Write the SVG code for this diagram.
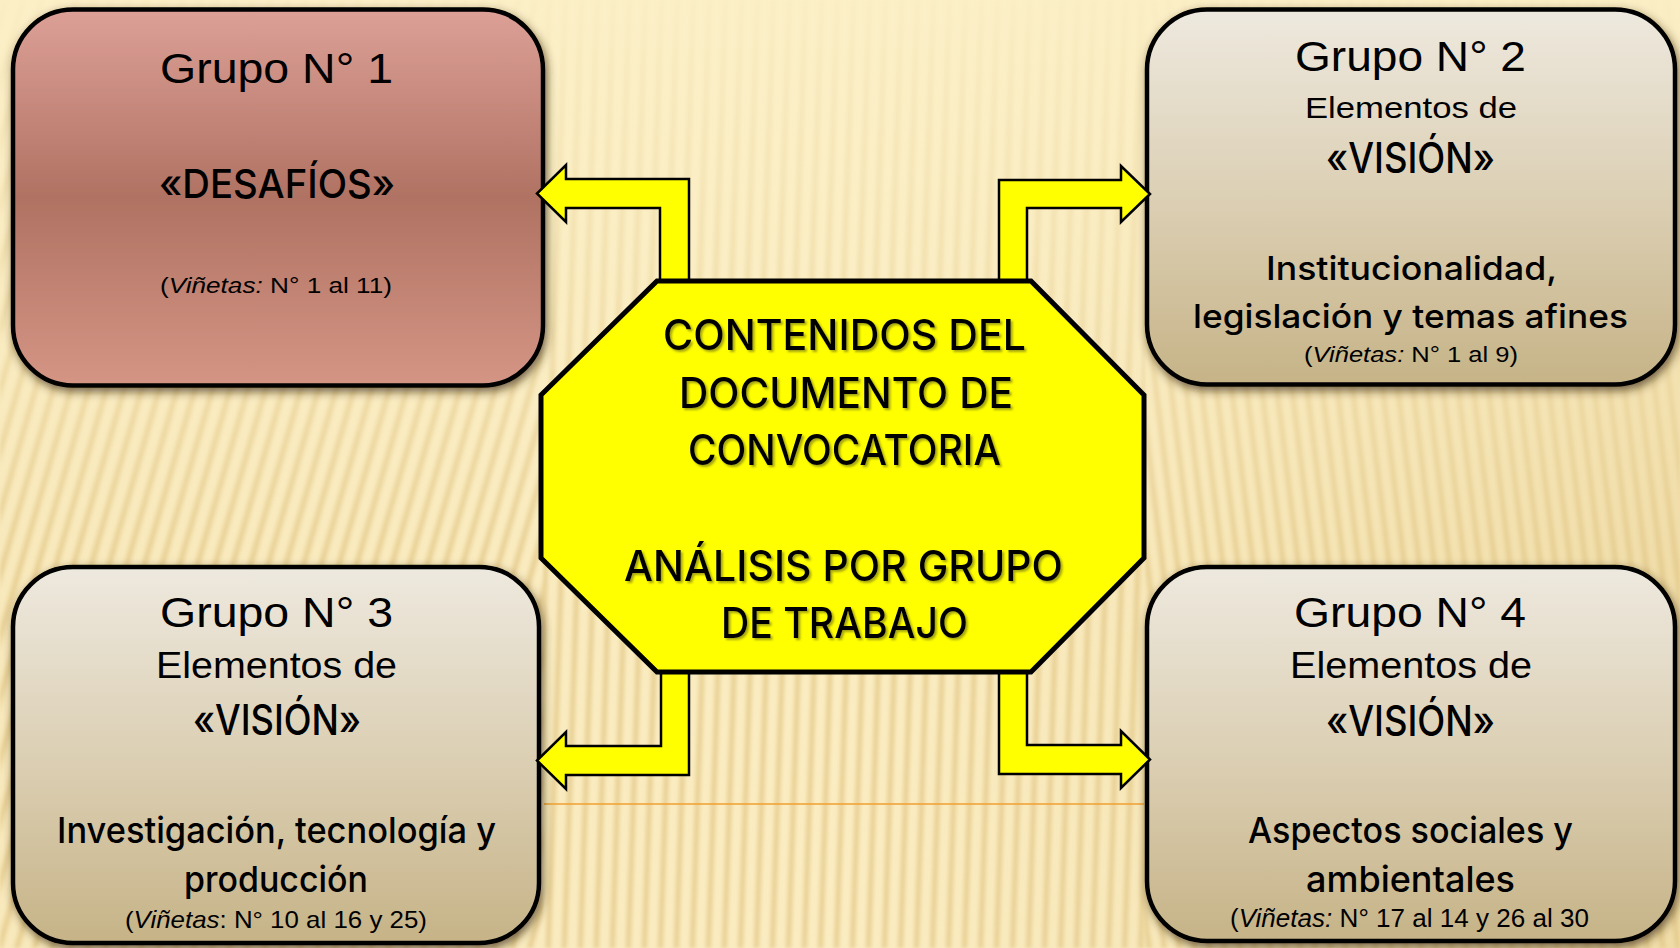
<svg xmlns="http://www.w3.org/2000/svg" width="1680" height="948" viewBox="0 0 1680 948">
<defs>
  <style>
    .lt{font-family:"Liberation Sans Narrow","Liberation Sans",Arial,sans-serif;font-weight:400;fill:#000}
    .md{font-family:Inter,Roboto,"Liberation Sans",sans-serif;font-weight:500;fill:#000}
    .oct{font-family:Inter,Roboto,"Liberation Sans",sans-serif;font-weight:500;font-size:42px;fill:#000;filter:url(#tshadow)}
    .box{stroke:#000;stroke-width:4.5;filter:url(#bshadow)}
    .arrow{fill:#FFFF00;stroke:#000;stroke-width:2.5;stroke-linejoin:miter}
    .it{font-style:italic}
  </style>
  <linearGradient id="gRed" x1="0" y1="0" x2="0" y2="1">
    <stop offset="0" stop-color="#DDA097"/>
    <stop offset="0.5" stop-color="#B07262"/>
    <stop offset="1" stop-color="#D49585"/>
  </linearGradient>
  <linearGradient id="gTan" x1="0" y1="0" x2="0" y2="1">
    <stop offset="0" stop-color="#EEE9DF"/>
    <stop offset="0.55" stop-color="#DACDB0"/>
    <stop offset="1" stop-color="#C6B387"/>
  </linearGradient>
  <linearGradient id="stripe" x1="0" y1="0" x2="1" y2="0">
    <stop offset="0" stop-color="#DCBE78" stop-opacity="0"/>
    <stop offset="0.5" stop-color="#DCBE78" stop-opacity="0.65"/>
    <stop offset="1" stop-color="#DCBE78" stop-opacity="0"/>
  </linearGradient>
  <pattern id="pL" width="17" height="20" patternUnits="userSpaceOnUse" patternTransform="rotate(16)">
    <rect x="0" y="0" width="11" height="20" fill="url(#stripe)"/>
  </pattern>
  <pattern id="pC" width="16" height="20" patternUnits="userSpaceOnUse" patternTransform="rotate(2)">
    <rect x="0" y="0" width="10" height="20" fill="url(#stripe)"/>
  </pattern>
  <pattern id="pR" width="15" height="20" patternUnits="userSpaceOnUse" patternTransform="rotate(-7)">
    <rect x="0" y="0" width="10" height="20" fill="url(#stripe)"/>
  </pattern>
  <linearGradient id="fadeTop" x1="0" y1="0" x2="0" y2="1">
    <stop offset="0" stop-color="#FCF0C8" stop-opacity="0.9"/>
    <stop offset="0.3" stop-color="#FCF0C8" stop-opacity="0.45"/>
    <stop offset="0.6" stop-color="#FCF0C8" stop-opacity="0"/>
  </linearGradient>
  <linearGradient id="sideTint" x1="0" y1="0" x2="1" y2="0">
    <stop offset="0" stop-color="#E9D39A" stop-opacity="0.15"/>
    <stop offset="0.5" stop-color="#E9D39A" stop-opacity="0"/>
    <stop offset="1" stop-color="#E2C888" stop-opacity="0.45"/>
  </linearGradient>
  <filter id="bshadow" x="-10%" y="-10%" width="120%" height="125%">
    <feDropShadow dx="2" dy="4" stdDeviation="5" flood-color="#3B2A10" flood-opacity="0.7"/>
  </filter>
  <filter id="tshadow" x="-5%" y="-20%" width="110%" height="150%">
    <feDropShadow dx="2" dy="2" stdDeviation="1.2" flood-color="#6B6B20" flood-opacity="0.6"/>
  </filter>
  <filter id="soft"><feGaussianBlur stdDeviation="1.5"/></filter>
</defs>

<g id="background">
  <rect x="0" y="0" width="1680" height="948" fill="#FBEDC2"/>
  <g filter="url(#soft)">
    <rect x="0" y="0" width="543" height="948" fill="url(#pL)"/>
    <rect x="543" y="0" width="602" height="948" fill="url(#pC)"/>
    <rect x="1145" y="0" width="535" height="948" fill="url(#pR)"/>
  </g>
  <rect x="0" y="0" width="1680" height="948" fill="url(#sideTint)"/>
  <rect x="0" y="0" width="1680" height="948" fill="url(#fadeTop)"/>
  <line x1="544" y1="804" x2="1144" y2="804" stroke="#F0A030" stroke-width="1.5"/>
</g>

<g id="group1">
  <rect class="box" x="13" y="9.5" width="530" height="376" rx="60" ry="60" fill="url(#gRed)"/>
  <text class="lt" x="160" y="83" font-size="42" textLength="233" lengthAdjust="spacingAndGlyphs">Grupo N° 1</text>
  <text class="md" x="159" y="198" font-size="40" textLength="236" lengthAdjust="spacingAndGlyphs">«DESAFÍOS»</text>
  <text class="lt" x="160" y="293" font-size="22" textLength="232" lengthAdjust="spacingAndGlyphs">(<tspan class="it">Viñetas:</tspan> N° 1 al 11)</text>
</g>

<g id="group2">
  <rect class="box" x="1147" y="9.5" width="528" height="375" rx="60" ry="60" fill="url(#gTan)"/>
  <text class="lt" x="1295" y="71" font-size="42" textLength="231" lengthAdjust="spacingAndGlyphs">Grupo N° 2</text>
  <text class="lt" x="1305" y="118" font-size="30" textLength="212" lengthAdjust="spacingAndGlyphs">Elementos de</text>
  <text class="md" x="1326" y="173" font-size="42" textLength="169" lengthAdjust="spacingAndGlyphs">«VISIÓN»</text>
  <text class="md" x="1266" y="280" font-size="33" textLength="291" lengthAdjust="spacingAndGlyphs">Institucionalidad,</text>
  <text class="md" x="1193" y="328" font-size="33" textLength="435" lengthAdjust="spacingAndGlyphs">legislación y temas afines</text>
  <text class="lt" x="1304" y="362" font-size="22" textLength="214" lengthAdjust="spacingAndGlyphs">(<tspan class="it">Viñetas:</tspan> N° 1 al 9)</text>
</g>

<g id="group3">
  <rect class="box" x="13" y="567" width="526" height="376" rx="60" ry="60" fill="url(#gTan)"/>
  <text class="lt" x="160" y="627" font-size="42" textLength="233" lengthAdjust="spacingAndGlyphs">Grupo N° 3</text>
  <text class="lt" x="156" y="678" font-size="36" textLength="241" lengthAdjust="spacingAndGlyphs">Elementos de</text>
  <text class="md" x="193" y="735" font-size="42" textLength="168" lengthAdjust="spacingAndGlyphs">«VISIÓN»</text>
  <text class="md" x="57" y="843" font-size="36" textLength="439" lengthAdjust="spacingAndGlyphs">Investigación, tecnología y</text>
  <text class="md" x="184" y="892" font-size="36" textLength="184" lengthAdjust="spacingAndGlyphs">producción</text>
  <text class="lt" x="125" y="928" font-size="24" textLength="302" lengthAdjust="spacingAndGlyphs">(<tspan class="it">Viñetas</tspan>: N° 10 al 16 y 25)</text>
</g>

<g id="group4">
  <rect class="box" x="1147" y="567" width="528" height="374" rx="60" ry="60" fill="url(#gTan)"/>
  <text class="lt" x="1294" y="627" font-size="42" textLength="232" lengthAdjust="spacingAndGlyphs">Grupo N° 4</text>
  <text class="lt" x="1290" y="678" font-size="36" textLength="242" lengthAdjust="spacingAndGlyphs">Elementos de</text>
  <text class="md" x="1326" y="736" font-size="42" textLength="169" lengthAdjust="spacingAndGlyphs">«VISIÓN»</text>
  <text class="md" x="1248" y="843" font-size="36" textLength="325" lengthAdjust="spacingAndGlyphs">Aspectos sociales y</text>
  <text class="md" x="1306" y="892" font-size="36" textLength="209" lengthAdjust="spacingAndGlyphs">ambientales</text>
  <text class="lt" x="1230" y="927" font-size="25" textLength="359" lengthAdjust="spacingAndGlyphs">(<tspan class="it">Viñetas:</tspan> N° 17 al 14 y 26 al 30</text>
</g>

<g id="connectors">
  <polygon class="arrow" points="689,284 689,179 566,179 566,165 537,193.5 566,222 566,208 660,208 660,284"/>
  <polygon class="arrow" points="999,284 999,180 1121,180 1121,166 1150,194 1121,222 1121,208 1027,208 1027,284"/>
  <polygon class="arrow" points="661,669 661,746 566,746 566,732 537,760.5 566,789 566,775 689,775 689,669"/>
  <polygon class="arrow" points="1027,669 1027,745 1121,745 1121,731 1150,759.5 1121,788 1121,774 999,774 999,669"/>
</g>

<g id="center">
  <polygon points="657,281 1031,281 1144,395 1144,558 1031,672 657,672 541,558 541,395" fill="#FFFF00" stroke="#000" stroke-width="5" stroke-linejoin="miter"/>
  <text class="oct" x="663" y="350" textLength="363" lengthAdjust="spacingAndGlyphs">CONTENIDOS DEL</text>
  <text class="oct" x="679" y="408" textLength="334" lengthAdjust="spacingAndGlyphs">DOCUMENTO DE</text>
  <text class="oct" x="688" y="465" textLength="313" lengthAdjust="spacingAndGlyphs">CONVOCATORIA</text>
  <text class="oct" x="624" y="581" textLength="439" lengthAdjust="spacingAndGlyphs">ANÁLISIS POR GRUPO</text>
  <text class="oct" x="721" y="638" textLength="247" lengthAdjust="spacingAndGlyphs">DE TRABAJO</text>
</g>
</svg>
